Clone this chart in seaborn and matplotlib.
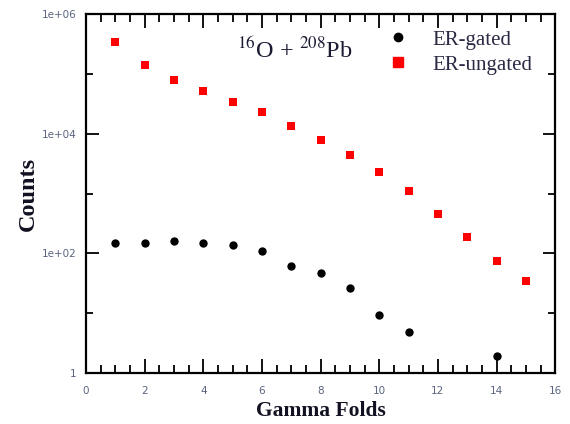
import numpy as np
import pandas as pd
import seaborn as sns
import matplotlib
matplotlib.use("Agg")
import matplotlib.pyplot as plt
from matplotlib.lines import Line2D
from matplotlib.ticker import FixedLocator, FixedFormatter, MultipleLocator

# Gamma-fold multiplicity distributions
folds_gated = [1, 2, 3, 4, 5, 6, 7, 8, 9, 10, 11, 14]
counts_gated = [150, 150, 161, 150, 136, 111, 62, 47, 26, 9.5, 4.8, 1.95]

folds_ungated = [1, 2, 3, 4, 5, 6, 7, 8, 9, 10, 11, 12, 13, 14, 15]
counts_ungated = [3.4e5, 1.4e5, 8.0e4, 5.2e4, 3.4e4, 2.3e4, 1.36e4, 8.0e3,
                  4.4e3, 2.3e3, 1.1e3, 460, 185, 75, 35]

series_names = ["ER-gated", "ER-ungated"]
y_major = [1, 1e2, 1e4, 1e6]
y_major_labels = ["1", "1e+02", "1e+04", "1e+06"]
y_minor = [10, 1e3, 1e5]

sns.set_theme(style="ticks")
plt.rcParams["font.family"] = ["DejaVu Sans"]
plt.rcParams["mathtext.fontset"] = "stix"

df = pd.concat([
    pd.DataFrame({"fold": folds_gated, "counts": counts_gated, "set": series_names[0]}),
    pd.DataFrame({"fold": folds_ungated, "counts": counts_ungated, "set": series_names[1]}),
])

fig = plt.figure(figsize=(5.7, 4.24), dpi=100)
ax = fig.add_axes([0.151, 0.120, 0.823, 0.847])

sns.scatterplot(data=df[df["set"] == series_names[0]], x="fold", y="counts",
                marker="o", color="black", s=36, linewidth=0, ax=ax, legend=False)
sns.scatterplot(data=df[df["set"] == series_names[1]], x="fold", y="counts",
                marker="s", color="#ff0000", s=40, linewidth=0, ax=ax, legend=False)

ax.set_yscale("log")
ax.set_xlim(0, 16)
ax.set_ylim(1, 1e6)

ax.xaxis.set_major_locator(MultipleLocator(2))
ax.xaxis.set_minor_locator(MultipleLocator(0.5))
ax.yaxis.set_major_locator(FixedLocator(y_major))
ax.yaxis.set_major_formatter(FixedFormatter(y_major_labels))
ax.yaxis.set_minor_locator(FixedLocator(y_minor))
ax.yaxis.set_minor_formatter(FixedFormatter(["", "", ""]))

tick_color = "#5a6480"
ax.tick_params(which="both", direction="in", top=True, right=True,
               color="black", labelcolor=tick_color, labelsize=7.5, width=1.3)
ax.tick_params(axis="x", which="major", length=10, pad=9)
ax.tick_params(axis="x", which="minor", length=6)
ax.tick_params(axis="y", which="major", length=9, pad=7)
ax.tick_params(axis="y", which="minor", length=5)

for sp in ax.spines.values():
    sp.set_linewidth(1.6)
    sp.set_color("black")

serif = ["Liberation Serif", "DejaVu Serif"]
ax.set_xlabel("Gamma Folds", fontsize=15.5, fontweight="bold", family=serif,
              color="#111122", labelpad=4)
ax.set_ylabel("Counts", fontsize=17.5, fontweight="bold", family=serif,
              color="#111122", labelpad=2)

ax.text(0.322, 0.898, r"$^{16}$O + $^{208}$Pb", transform=ax.transAxes,
        fontsize=17.5, family=serif, color="#1a1a33", va="center", ha="left")

handles = [
    Line2D([], [], marker="o", color="black", linestyle="none", markersize=6),
    Line2D([], [], marker="s", color="#ff0000", linestyle="none", markersize=6.5),
]
leg = ax.legend(handles, series_names, loc="upper left",
                bbox_to_anchor=(0.606, 0.99), frameon=False,
                prop={"family": serif, "size": 15}, handletextpad=0.9,
                handlelength=1.5, labelspacing=0.26, borderaxespad=0.2)
for t in leg.get_texts():
    t.set_color("#2a2a44")

fig.savefig("out.png", dpi=100)
